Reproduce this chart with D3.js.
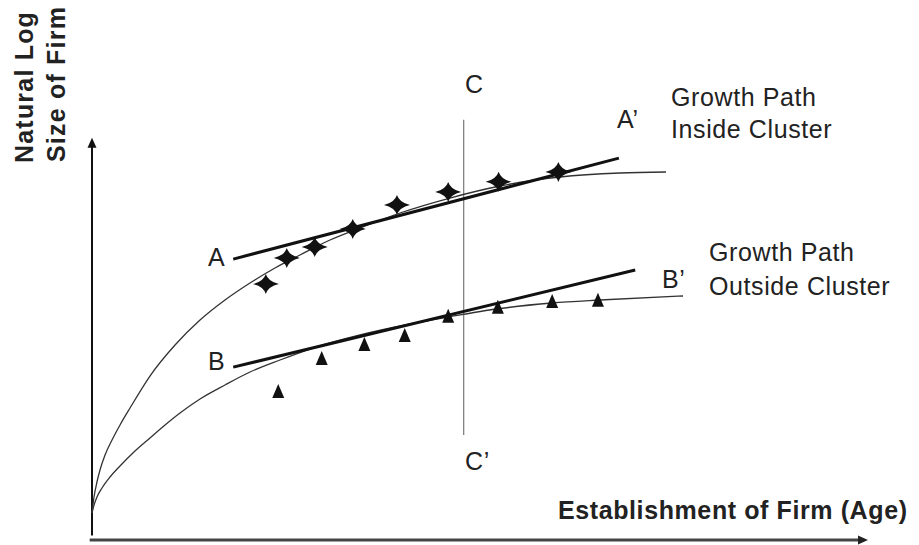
<!DOCTYPE html>
<html>
<head>
<meta charset="utf-8">
<script src="https://cdn.jsdelivr.net/npm/d3@7"></script>
<style>
  html, body { margin: 0; padding: 0; background: #fff; }
  svg { display: block; }
  text { font-family: "Liberation Sans", Arial, sans-serif; fill: #222; }
</style>
</head>
<body>
<div id="chart"></div>
<script>
// ---------- DATA (x = age units, y = natural log size units) ----------
// Growth path inside cluster: observed firms (stars)
const insideX = [22.4, 25.1, 28.7, 33.6, 39.3, 45.9, 52.4, 60.1];
const insideY = [60.5, 67.2, 70.0, 74.6, 80.8, 84.1, 86.7, 89.2];
// Growth path outside cluster: observed firms (triangles)
const outsideX = [24.0, 29.6, 35.1, 40.3, 45.9, 52.3, 59.3, 65.2];
const outsideY = [32.8, 41.3, 44.9, 47.2, 52.1, 54.4, 55.9, 56.2];
// Thin growth curves
const curveInX = [0, 0.26, 0.64, 1.03, 1.68, 2.58, 3.61, 4.90, 7.47, 10.70, 13.92, 17.14, 20.36, 23.58, 26.80, 30.67, 34.54, 39.69, 46.13, 52.58, 60.31, 68.04, 73.97];
const curveInY = [1.79, 5.90, 9.74, 12.82, 16.67, 20.51, 24.36, 28.72, 36.92, 44.87, 51.28, 56.41, 60.77, 64.62, 67.95, 71.79, 74.87, 78.72, 82.56, 85.64, 87.95, 88.97, 89.23];
const curveOutX = [0, 0.26, 0.64, 1.29, 2.32, 3.61, 5.54, 7.47, 9.41, 11.34, 13.92, 17.14, 20.36, 24.23, 28.48, 34.54, 40.34, 45.88, 52.58, 59.28, 65.46, 76.16];
const curveOutY = [1.79, 3.85, 5.90, 8.21, 11.03, 13.85, 17.69, 21.03, 24.36, 27.44, 31.03, 34.62, 37.95, 41.03, 44.10, 47.44, 50.0, 52.05, 54.23, 55.64, 56.41, 57.44];
// Straight fitted lines A-A' and B-B'
const lineAX = [18.2, 67.9], lineAY = [66.9, 92.8];
const lineBX = [18.2, 70.0], lineBY = [39.2, 64.1];
// Vertical cut C-C'
const lineCX = [47.9, 47.9], lineCY = [102.6, 21.8];
// Axis extents (data units)
const xAxisExtent = [-0.3, 100], xAxisAt = -5.1;
const yAxisExtent = [-4, 98];

// ---------- LAYOUT ----------
const W = 919, H = 545;
const x = d3.scaleLinear().domain([0, 100]).range([92, 868]);
const y = d3.scaleLinear().domain([0, 100]).range([520, 130]);

const svg = d3.select("#chart").append("svg").attr("width", W).attr("height", H);

const zip = (xs, ys) => xs.map((v, i) => [v, ys[i]]);
const line = d3.line().x(d => x(d[0])).y(d => y(d[1]));
const smooth = d3.line().x(d => x(d[0])).y(d => y(d[1])).curve(d3.curveMonotoneX);

// Axes
svg.append("line")
  .attr("x1", x(0)).attr("x2", x(0))
  .attr("y1", y(yAxisExtent[0])).attr("y2", y(yAxisExtent[1]) + 6)
  .attr("stroke", "#111").attr("stroke-width", 2);
svg.append("path")
  .attr("d", `M${x(0)},${y(yAxisExtent[1])} l-4.5,10 l9,0 Z`)
  .attr("fill", "#111");
svg.append("line")
  .attr("x1", x(xAxisExtent[0])).attr("x2", x(xAxisExtent[1]) - 6)
  .attr("y1", y(xAxisAt)).attr("y2", y(xAxisAt))
  .attr("stroke", "#444").attr("stroke-width", 3);
svg.append("path")
  .attr("d", `M${x(xAxisExtent[1])},${y(xAxisAt)} l-10,-4.5 l0,9 Z`)
  .attr("fill", "#222");

// Vertical line C-C'
svg.append("path").attr("d", line(zip(lineCX, lineCY)))
  .attr("stroke", "#777").attr("stroke-width", 1.2).attr("fill", "none");

// Thin curves
svg.append("path").attr("d", smooth(zip(curveInX, curveInY)))
  .attr("stroke", "#333").attr("stroke-width", 1.3).attr("fill", "none");
svg.append("path").attr("d", smooth(zip(curveOutX, curveOutY)))
  .attr("stroke", "#333").attr("stroke-width", 1.3).attr("fill", "none");

// Thick lines
svg.append("path").attr("d", line(zip(lineAX, lineAY)))
  .attr("stroke", "#111").attr("stroke-width", 3).attr("fill", "none");
svg.append("path").attr("d", line(zip(lineBX, lineBY)))
  .attr("stroke", "#111").attr("stroke-width", 3).attr("fill", "none");

// Markers
const starSym = {
  draw(ctx) {
    ctx.moveTo(-13, 0);
    ctx.quadraticCurveTo(-2.4, -2.4, 0, -10);
    ctx.quadraticCurveTo(2.4, -2.4, 13, 0);
    ctx.quadraticCurveTo(2.4, 2.4, 0, 10);
    ctx.quadraticCurveTo(-2.4, 2.4, -13, 0);
    ctx.closePath();
  }
};
const triSym = {
  draw(ctx) {
    ctx.moveTo(0, -8);
    ctx.lineTo(6, 6);
    ctx.lineTo(-6, 6);
    ctx.closePath();
  }
};
svg.append("g").selectAll("path").data(zip(insideX, insideY)).join("path")
  .attr("transform", d => `translate(${x(d[0])},${y(d[1])})`)
  .attr("d", d3.symbol().type(starSym)())
  .attr("fill", "#111");
svg.append("g").selectAll("path").data(zip(outsideX, outsideY)).join("path")
  .attr("transform", d => `translate(${x(d[0])},${y(d[1])})`)
  .attr("d", d3.symbol().type(triSym)())
  .attr("fill", "#111");

// Labels
const lab = (t, px, py, opts = {}) => {
  const el = svg.append("text").attr("x", px).attr("y", py).text(t)
    .style("font-size", (opts.size || 25) + "px")
    .style("letter-spacing", (opts.ls || 0.6) + "px");
  if (opts.bold) el.style("font-weight", "bold");
  return el;
};
lab("A", 208, 266);
lab("B", 208, 370);
lab("C", 465, 93);
lab("C\u2019", 465, 470);
lab("A\u2019", 617, 128);
lab("B\u2019", 662, 288);
lab("Growth Path", 671, 106);
lab("Inside Cluster", 671, 138);
lab("Growth Path", 709, 261);
lab("Outside Cluster", 709, 295);
lab("Establishment of Firm (Age)", 558, 519, { bold: true, ls: 0.6 });

svg.append("text").attr("transform", "translate(33,163) rotate(-90)")
  .text("Natural Log").style("font-size", "25px").style("font-weight", "bold")
  .style("letter-spacing", "1.2px");
svg.append("text").attr("transform", "translate(65,162) rotate(-90)")
  .text("Size of Firm").style("font-size", "25px").style("font-weight", "bold")
  .style("letter-spacing", "1.2px");
</script>
</body>
</html>
